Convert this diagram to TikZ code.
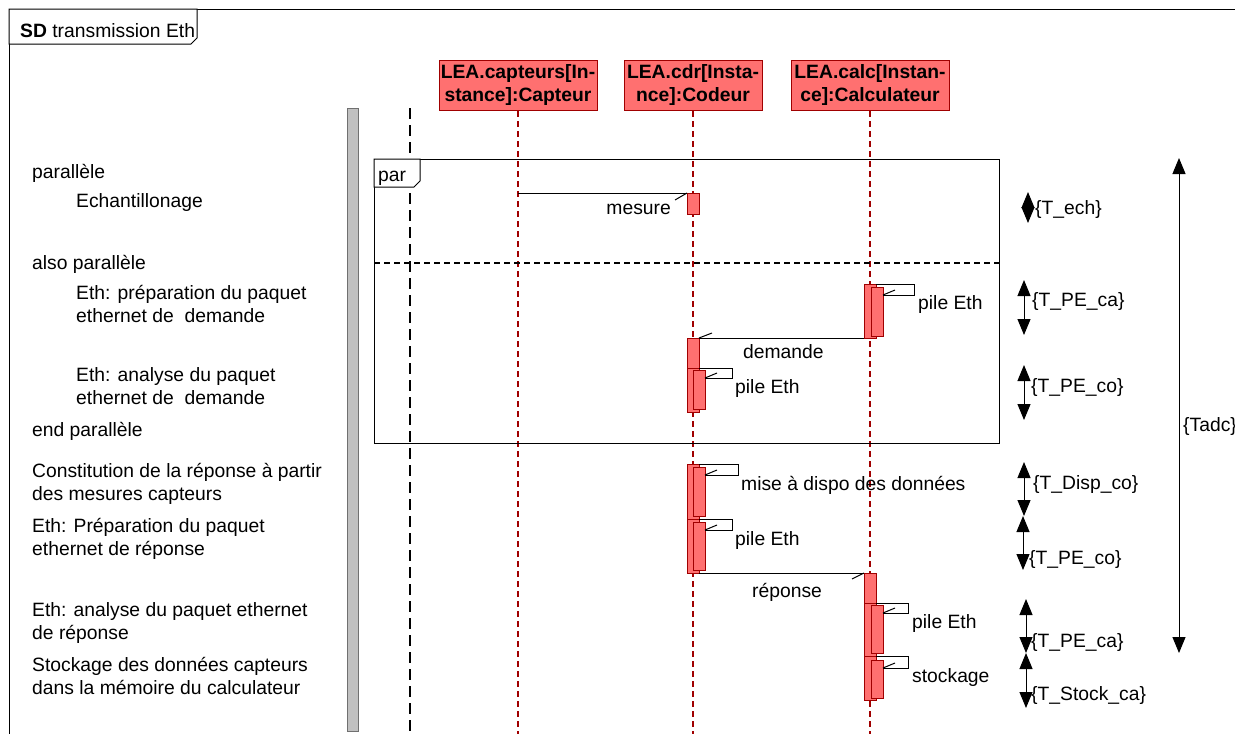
\documentclass[tikz,border=0pt]{standalone}
\usepackage{fontspec}
\setmainfont{Liberation Sans}
\usetikzlibrary{arrows.meta,positioning}
\definecolor{ActRed}  {HTML}{FF7070}
\definecolor{LineRed} {HTML}{A00000}
\definecolor{BarGray} {HTML}{C0C0C0}
\definecolor{BarEdge} {HTML}{707070}
\newcommand{\diagfont}{\fontsize{19.3}{23}\selectfont}
\tikzset{
  lifehead/.style={fill=ActRed,draw=LineRed,line width=1pt,font=\diagfont\bfseries,
                   align=center,inner sep=1pt,minimum height=50pt,anchor=north},
  lifeline/.style={draw=LineRed,line width=1.2pt,dash pattern=on 6pt off 4pt},
  act/.style={fill=ActRed,draw=LineRed,line width=1pt,minimum width=12pt,
              inner sep=0pt,outer sep=0pt,anchor=north},
  msg/.style={draw=black,line width=1pt},
  lbl/.style={anchor=base west,inner sep=0pt,align=left},
  durarrow/.style={line width=1pt,
                   {Triangle[length=16pt,width=13pt]}-{Triangle[length=16pt,width=13pt]}},
}

\begin{document}
\begin{tikzpicture}[x=1pt,y=-1pt,font=\diagfont]
  \useasboundingbox (0,0) rectangle (1235,734);
  \coordinate (bottom) at (0,734);

  % cadre du diagramme
  \draw[line width=1pt] (1235,9) -- (9,9) -- (9,734);
  \draw[line width=1pt,fill=white] (9,9) -- (197,9) -- (197,38) -- (191,44) -- (9,44) -- cycle;
  \node[lbl] (sdtitle) at (20,37) {\textbf{SD} transmission Eth};

  % barre grise et ligne de vie systeme
  \draw[fill=BarGray,draw=BarEdge,line width=1pt] (347,108) rectangle (358,731);
  \draw[line width=2.5pt,dash pattern=on 11pt off 6pt] (410,108) -- (410,734);

  % objets
  \node[lifehead,minimum width=158pt] (capt) at (518,60) {LEA.capteurs[In-\\stance]:Capteur};
  \node[lifehead,minimum width=138pt] (cdr)  at (693,60) {LEA.cdr[Insta-\\nce]:Codeur};
  \node[lifehead,minimum width=158pt] (calc) at (870,60) {LEA.calc[Instan-\\ce]:Calculateur};
  \draw[lifeline] (capt.south) -- (capt.south |- bottom);
  \draw[lifeline] (cdr.south)  -- (cdr.south |- bottom);
  \draw[lifeline] (calc.south) -- (calc.south |- bottom);

  % fragment par
  \draw[line width=1pt] (374,159) rectangle (999,443);
  \draw[line width=1pt,fill=white] (374,159) -- (420,159) -- (420,181) -- (414,187) -- (374,187) -- cycle;
  \node[lbl] (partag) at (378,181) {par};
  \draw[line width=1.5pt,dash pattern=on 6pt off 4pt] (374,263) -- (999,263);

  % echantillonage
  \node[act,minimum height=21pt] (mes) at (693,193) {};
  \draw[msg] (capt.south |- mes.north) -- (mes.north west);
  \draw[msg] (mes.north west) -- ++(-12,7);
  \node[lbl,anchor=base east] (mesl) at (671,214) {mesure};

  % demande
  \node[act,minimum height=54pt] (pe1) at (870,284) {};
  \node[act,minimum height=49pt] (pe1in) at (877,287) {};
  \draw[msg] (pe1.north east) -- ++(38,0) |- ([yshift=-8pt]pe1in.north east);
  \draw[msg] ([yshift=-8pt]pe1in.north east) -- ++(12,-5);
  \node[lbl] (pe1l) at (918,309) {pile Eth};

  \node[act,minimum height=30pt] (dem) at (693,338) {};
  \node[act,minimum height=44pt,below=0pt of dem] (pe2) {};
  \node[act,minimum height=39pt] (pe2in) at (699,370) {};
  \draw[msg] (pe1.south west) -- (dem.north east);
  \draw[msg] (dem.north east) -- ++(13,-5);
  \node[lbl] (deml) at (743,358) {demande};
  \draw[msg] (pe2.north east) -- ++(33,0) |- ([yshift=-8pt]pe2in.north east);
  \draw[msg] ([yshift=-8pt]pe2in.north east) -- ++(12,-5);
  \node[lbl] (pe2l) at (735,393) {pile Eth};

  % reponse
  \node[act,minimum height=55pt] (disp) at (693,464) {};
  \node[act,minimum height=49pt] (dispin) at (699,467) {};
  \draw[msg] (disp.north east) -- ++(39,0) |- ([yshift=-8pt]dispin.north east);
  \draw[msg] ([yshift=-8pt]dispin.north east) -- ++(12,-5);
  \node[lbl] (displ) at (741,490) {mise à dispo des données};

  \node[act,minimum height=54pt,below=0pt of disp] (pe3) {};
  \node[act,minimum height=48pt] (pe3in) at (699,522) {};
  \draw[msg] (pe3.north east) -- ++(33,0) |- ([yshift=-8pt]pe3in.north east);
  \draw[msg] ([yshift=-8pt]pe3in.north east) -- ++(12,-5);
  \node[lbl] (pe3l) at (735,545) {pile Eth};

  \node[act,minimum height=30pt] (rep) at (870,573) {};
  \draw[msg] (pe3.south east) -- (rep.north west);
  \draw[msg] (rep.north west) -- ++(-12,6);
  \node[lbl] (repl) at (752,597) {réponse};

  \node[act,minimum height=53pt,below=0pt of rep] (pe4) {};
  \node[act,minimum height=48pt] (pe4in) at (877,605) {};
  \draw[msg] (pe4.north east) -- ++(32,0) |- ([yshift=-8pt]pe4in.north east);
  \draw[msg] ([yshift=-8pt]pe4in.north east) -- ++(12,-5);
  \node[lbl] (pe4l) at (912,628) {pile Eth};

  \node[act,minimum height=44pt,below=0pt of pe4] (stk) {};
  \node[act,minimum height=38pt] (stkin) at (877,660) {};
  \draw[msg] (stk.north east) -- ++(32,0) |- ([yshift=-8pt]stkin.north east);
  \draw[msg] ([yshift=-8pt]stkin.north east) -- ++(12,-5);
  \node[lbl] (stkl) at (912,682) {stockage};

  % textes de gauche (ancre = ligne de base de la derniere ligne)
  \node[lbl] (t1)  at (32,178) {parallèle};
  \node[lbl] (t2)  at (76,207) {Echantillonage};
  \node[lbl] (t3)  at (32,269) {also parallèle};
  \node[lbl] (t4)  at (76,322) {Eth: préparation du paquet\\ethernet de \ demande};
  \node[lbl] (t5)  at (76,404) {Eth: analyse du paquet\\ethernet de \ demande};
  \node[lbl] (t6)  at (32,436) {end parallèle};
  \node[lbl] (t7)  at (32,500) {Constitution de la réponse à partir\\des mesures capteurs};
  \node[lbl] (t8)  at (32,555) {Eth: Préparation du paquet\\ethernet de réponse};
  \node[lbl] (t9)  at (32,639) {Eth: analyse du paquet ethernet\\de réponse};
  \node[lbl] (t10) at (32,694) {Stockage des données capteurs\\dans la mémoire du calculateur};

  % contraintes de duree
  \coordinate (ech1) at (1028,192);  \coordinate (ech2) at (1028,223);
  \coordinate (pca1) at (1024,280);  \coordinate (pca2) at (1024,335);
  \coordinate (pco1) at (1024,365);  \coordinate (pco2) at (1024,420);
  \coordinate (adc1) at (1179,158);  \coordinate (adc2) at (1179,653);
  \coordinate (dsp1) at (1024,462);  \coordinate (dsp2) at (1024,516);
  \coordinate (pco3) at (1023,516);  \coordinate (pco4) at (1023,570);
  \coordinate (pca3) at (1026,599);  \coordinate (pca4) at (1026,653);
  \coordinate (sto1) at (1026,653);  \coordinate (sto2) at (1026,708);
  \draw[durarrow] (ech1) -- (ech2);
  \draw[durarrow] (pca1) -- (pca2);
  \draw[durarrow] (pco1) -- (pco2);
  \draw[durarrow] (adc1) -- (adc2);
  \draw[durarrow] (dsp1) -- (dsp2);
  \draw[durarrow] (pco3) -- (pco4);
  \draw[durarrow] (pca3) -- (pca4);
  \draw[durarrow] (sto1) -- (sto2);
  \node[lbl] (echl) at (1035,214) {\{T\_ech\}};
  \node[lbl] (pcal) at (1032,306) {\{T\_PE\_ca\}};
  \node[lbl] (pcol) at (1031,392) {\{T\_PE\_co\}};
  \node[lbl] (adcl) at (1183,431) {\{Tadc\}};
  \node[lbl] (dspl) at (1033,489) {\{T\_Disp\_co\}};
  \node[lbl] (pcol2) at (1029,564) {\{T\_PE\_co\}};
  \node[lbl] (pcal2) at (1031,647) {\{T\_PE\_ca\}};
  \node[lbl] (stol) at (1031,700) {\{T\_Stock\_ca\}};
\end{tikzpicture}
\end{document}
